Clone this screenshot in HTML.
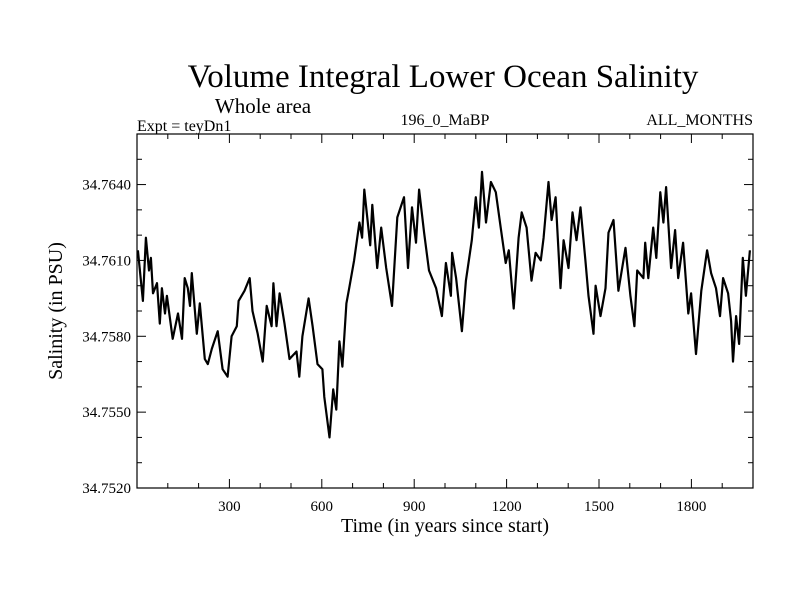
<!DOCTYPE html>
<html><head><meta charset="utf-8"><style>
html,body{margin:0;padding:0;background:#fff;}
svg{display:block;font-family:"Liberation Serif",serif;}
</style></head><body>
<svg id="chart" width="800" height="600">
<text x="443" y="87" font-size="33" text-anchor="middle">Volume Integral Lower Ocean Salinity</text>
<text x="263" y="113" font-size="21" text-anchor="middle">Whole area</text>
<text x="137" y="131" font-size="16">Expt = teyDn1</text>
<text x="445" y="125" font-size="16" text-anchor="middle">196_0_MaBP</text>
<text x="753" y="125" font-size="16" text-anchor="end">ALL_MONTHS</text>
<text x="445" y="532" font-size="20" text-anchor="middle">Time (in years since start)</text>
<text transform="translate(62,311) rotate(-90)" font-size="20" text-anchor="middle">Salinity (in PSU)</text>
<g id="axes"></g>
<rect x="137" y="134" width="616" height="354" fill="none" stroke="#000" stroke-width="1.2"/>
<path id="line" fill="none" stroke="#000" stroke-width="2.2" stroke-linejoin="round"/>
</svg>
<script>
const years=[3,19,29,39,45,52,65,74,81,91,97,116,133,146,155,165,172,178,194,204,220,230,243,262,278,294,307,324,330,349,366,375,392,408,421,437,443,453,463,479,495,518,527,537,557,570,586,602,608,625,637,647,657,667,680,689,705,722,731,738,757,764,780,793,809,828,845,867,880,893,906,916,932,948,971,990,1003,1019,1023,1036,1055,1068,1087,1100,1110,1120,1133,1149,1165,1181,1197,1207,1223,1239,1249,1265,1281,1294,1311,1320,1336,1346,1359,1375,1385,1401,1414,1427,1440,1456,1466,1482,1489,1505,1521,1531,1547,1563,1586,1602,1615,1624,1644,1650,1660,1676,1686,1699,1709,1718,1734,1747,1757,1773,1790,1799,1815,1832,1851,1864,1880,1893,1903,1919,1929,1935,1945,1955,1967,1977,1990];
const salinity=[34.7614,34.7594,34.7619,34.7606,34.7611,34.7597,34.7601,34.7585,34.7599,34.7589,34.7596,34.7579,34.7589,34.7579,34.7603,34.7599,34.7592,34.7605,34.7581,34.7593,34.7571,34.7569,34.7575,34.7582,34.7567,34.7564,34.7580,34.7584,34.7594,34.7598,34.7603,34.7590,34.7581,34.7570,34.7592,34.7584,34.7601,34.7584,34.7597,34.7585,34.7571,34.7574,34.7564,34.7580,34.7595,34.7584,34.7569,34.7567,34.7556,34.7540,34.7559,34.7551,34.7578,34.7568,34.7593,34.7599,34.7610,34.7625,34.7619,34.7638,34.7616,34.7632,34.7607,34.7623,34.7607,34.7592,34.7627,34.7635,34.7607,34.7631,34.7617,34.7638,34.7621,34.7606,34.7599,34.7588,34.7609,34.7596,34.7613,34.7603,34.7582,34.7602,34.7618,34.7635,34.7623,34.7645,34.7625,34.7641,34.7637,34.7623,34.7609,34.7614,34.7591,34.7619,34.7629,34.7623,34.7602,34.7613,34.7610,34.7619,34.7641,34.7626,34.7635,34.7599,34.7618,34.7607,34.7629,34.7618,34.7631,34.7610,34.7596,34.7581,34.7600,34.7588,34.7599,34.7621,34.7626,34.7598,34.7615,34.7596,34.7584,34.7606,34.7603,34.7617,34.7603,34.7623,34.7611,34.7637,34.7625,34.7639,34.7607,34.7622,34.7603,34.7617,34.7589,34.7597,34.7573,34.7598,34.7614,34.7605,34.7599,34.7588,34.7603,34.7597,34.7586,34.7570,34.7588,34.7577,34.7611,34.7596,34.7614];
const xTickLabels=[300,600,900,1200,1500,1800];
const yTickLabels=["34.7520","34.7550","34.7580","34.7610","34.7640"];
const xDomain=[0,2000], yDomain=[34.752,34.766];
const L=137,R=753,T=134,B=488;
const X=v=>L+(v-xDomain[0])/(xDomain[1]-xDomain[0])*(R-L);
const Y=v=>B-(v-yDomain[0])/(yDomain[1]-yDomain[0])*(B-T);
const NS="http://www.w3.org/2000/svg";
const axes=document.getElementById('axes');
function ln(x1,y1,x2,y2,name){const l=document.createElementNS(NS,'line');
l.setAttribute('x1',x1);l.setAttribute('y1',y1);l.setAttribute('x2',x2);l.setAttribute('y2',y2);
l.setAttribute('stroke','#000');l.setAttribute('stroke-width','1');


axes.appendChild(l);}
for(let yr=100;yr<2000;yr+=100){const x=X(yr);const len=yr%300===0?9:5;
ln(x,B,x,B-len,'x-tick');ln(x,T,x,T+len,'x-tick-top');}
for(let k=1;k<14;k++){const v=34.752+k*0.001;const y=Y(v);const len=k%3===0?9:5;
ln(L,y,L+len,y,'y-tick');ln(R,y,R-len,y,'y-tick-right');}
xTickLabels.forEach(v=>{const t=document.createElementNS(NS,'text');
t.setAttribute('x',X(v));t.setAttribute('y',B+23);t.setAttribute('font-size','15');t.setAttribute('text-anchor','middle');
t.textContent=v;


axes.appendChild(t);});
yTickLabels.forEach(s=>{const t=document.createElementNS(NS,'text');
t.setAttribute('x',131);t.setAttribute('y',Y(parseFloat(s))+5);t.setAttribute('font-size','15');t.setAttribute('text-anchor','end');
t.textContent=s;


axes.appendChild(t);});
document.getElementById('line').setAttribute('d',years.map((yr,i)=>(i?'L':'M')+X(yr).toFixed(1)+','+Y(salinity[i]).toFixed(1)).join(''));
</script>
</body></html>
